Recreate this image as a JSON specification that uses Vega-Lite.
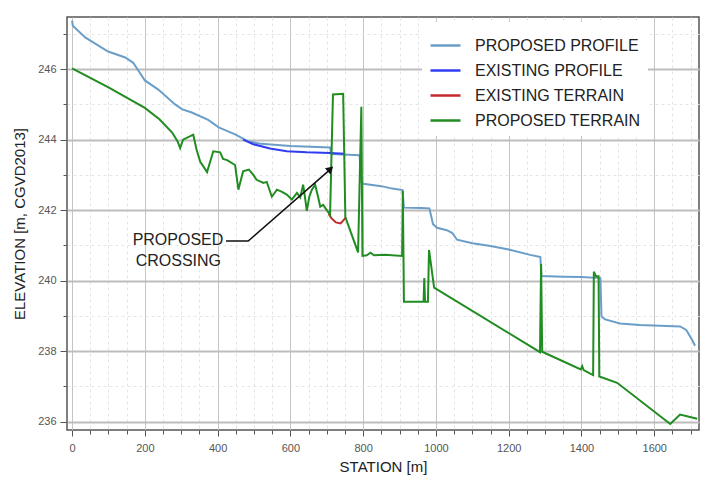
{
  "$schema": "https://vega.github.io/schema/vega-lite/v6.json",
  "width": 632,
  "height": 413,
  "autosize": {"type": "none"},
  "padding": {"left": 67, "top": 17, "right": 15, "bottom": 57},
  "background": "white",
  "config": {
    "font": "Liberation Sans",
    "view": {"stroke": "#555555", "strokeWidth": 1.5},
    "axis": {"labelColor": "#555555", "labelFontSize": 11, "titleColor": "#222222", "titleFontSize": 15, "titleFontWeight": "normal", "domain": false, "tickColor": "#555555"}
  },
  "datasets": {
    "lines": [
      {"series": "PROPOSED PROFILE", "station": 0, "elev": 247.38},
      {"series": "PROPOSED PROFILE", "station": 2, "elev": 247.23},
      {"series": "PROPOSED PROFILE", "station": 36, "elev": 246.9},
      {"series": "PROPOSED PROFILE", "station": 99, "elev": 246.5},
      {"series": "PROPOSED PROFILE", "station": 146, "elev": 246.33},
      {"series": "PROPOSED PROFILE", "station": 168, "elev": 246.18},
      {"series": "PROPOSED PROFILE", "station": 200, "elev": 245.68},
      {"series": "PROPOSED PROFILE", "station": 237, "elev": 245.42},
      {"series": "PROPOSED PROFILE", "station": 283, "elev": 245.0},
      {"series": "PROPOSED PROFILE", "station": 303, "elev": 244.86},
      {"series": "PROPOSED PROFILE", "station": 329, "elev": 244.77},
      {"series": "PROPOSED PROFILE", "station": 374, "elev": 244.56},
      {"series": "PROPOSED PROFILE", "station": 403, "elev": 244.35},
      {"series": "PROPOSED PROFILE", "station": 448, "elev": 244.15},
      {"series": "PROPOSED PROFILE", "station": 484, "elev": 243.95},
      {"series": "PROPOSED PROFILE", "station": 520, "elev": 243.88},
      {"series": "PROPOSED PROFILE", "station": 600, "elev": 243.82},
      {"series": "PROPOSED PROFILE", "station": 709, "elev": 243.78},
      {"series": "PROPOSED PROFILE", "station": 712, "elev": 243.59},
      {"series": "PROPOSED PROFILE", "station": 760, "elev": 243.57},
      {"series": "PROPOSED PROFILE", "station": 790, "elev": 243.56},
      {"series": "PROPOSED PROFILE", "station": 795, "elev": 242.8},
      {"series": "PROPOSED PROFILE", "station": 800, "elev": 242.75},
      {"series": "PROPOSED PROFILE", "station": 850, "elev": 242.68},
      {"series": "PROPOSED PROFILE", "station": 880, "elev": 242.61},
      {"series": "PROPOSED PROFILE", "station": 908, "elev": 242.57},
      {"series": "PROPOSED PROFILE", "station": 912, "elev": 242.07},
      {"series": "PROPOSED PROFILE", "station": 960, "elev": 242.06},
      {"series": "PROPOSED PROFILE", "station": 982, "elev": 242.05},
      {"series": "PROPOSED PROFILE", "station": 992, "elev": 241.6},
      {"series": "PROPOSED PROFILE", "station": 1003, "elev": 241.5},
      {"series": "PROPOSED PROFILE", "station": 1030, "elev": 241.43},
      {"series": "PROPOSED PROFILE", "station": 1045, "elev": 241.35},
      {"series": "PROPOSED PROFILE", "station": 1058, "elev": 241.16},
      {"series": "PROPOSED PROFILE", "station": 1100, "elev": 241.06},
      {"series": "PROPOSED PROFILE", "station": 1150, "elev": 240.98},
      {"series": "PROPOSED PROFILE", "station": 1200, "elev": 240.88},
      {"series": "PROPOSED PROFILE", "station": 1259, "elev": 240.73},
      {"series": "PROPOSED PROFILE", "station": 1287, "elev": 240.67},
      {"series": "PROPOSED PROFILE", "station": 1290, "elev": 240.13},
      {"series": "PROPOSED PROFILE", "station": 1350, "elev": 240.11},
      {"series": "PROPOSED PROFILE", "station": 1400, "elev": 240.1},
      {"series": "PROPOSED PROFILE", "station": 1452, "elev": 240.07},
      {"series": "PROPOSED PROFILE", "station": 1455, "elev": 238.98},
      {"series": "PROPOSED PROFILE", "station": 1465, "elev": 238.9},
      {"series": "PROPOSED PROFILE", "station": 1506, "elev": 238.78},
      {"series": "PROPOSED PROFILE", "station": 1560, "elev": 238.74},
      {"series": "PROPOSED PROFILE", "station": 1616, "elev": 238.72},
      {"series": "PROPOSED PROFILE", "station": 1671, "elev": 238.7},
      {"series": "PROPOSED PROFILE", "station": 1688, "elev": 238.6},
      {"series": "PROPOSED PROFILE", "station": 1705, "elev": 238.3},
      {"series": "PROPOSED PROFILE", "station": 1712, "elev": 238.15},
      {"series": "EXISTING PROFILE", "station": 470, "elev": 244.0},
      {"series": "EXISTING PROFILE", "station": 498, "elev": 243.87},
      {"series": "EXISTING PROFILE", "station": 544, "elev": 243.75},
      {"series": "EXISTING PROFILE", "station": 590, "elev": 243.67},
      {"series": "EXISTING PROFILE", "station": 645, "elev": 243.64},
      {"series": "EXISTING PROFILE", "station": 709, "elev": 243.62},
      {"series": "EXISTING PROFILE", "station": 750, "elev": 243.6},
      {"series": "EXISTING TERRAIN", "station": 705, "elev": 241.9},
      {"series": "EXISTING TERRAIN", "station": 712, "elev": 241.78},
      {"series": "EXISTING TERRAIN", "station": 725, "elev": 241.65},
      {"series": "EXISTING TERRAIN", "station": 738, "elev": 241.62},
      {"series": "EXISTING TERRAIN", "station": 745, "elev": 241.7},
      {"series": "EXISTING TERRAIN", "station": 753, "elev": 241.8},
      {"series": "PROPOSED TERRAIN", "station": 0, "elev": 246.02},
      {"series": "PROPOSED TERRAIN", "station": 100, "elev": 245.48},
      {"series": "PROPOSED TERRAIN", "station": 200, "elev": 244.9},
      {"series": "PROPOSED TERRAIN", "station": 240, "elev": 244.58},
      {"series": "PROPOSED TERRAIN", "station": 275, "elev": 244.2},
      {"series": "PROPOSED TERRAIN", "station": 290, "elev": 243.95},
      {"series": "PROPOSED TERRAIN", "station": 297, "elev": 243.76},
      {"series": "PROPOSED TERRAIN", "station": 305, "elev": 244.0},
      {"series": "PROPOSED TERRAIN", "station": 333, "elev": 244.14},
      {"series": "PROPOSED TERRAIN", "station": 342, "elev": 243.72},
      {"series": "PROPOSED TERRAIN", "station": 352, "elev": 243.38},
      {"series": "PROPOSED TERRAIN", "station": 371, "elev": 243.08},
      {"series": "PROPOSED TERRAIN", "station": 388, "elev": 243.67},
      {"series": "PROPOSED TERRAIN", "station": 407, "elev": 243.64},
      {"series": "PROPOSED TERRAIN", "station": 415, "elev": 243.45},
      {"series": "PROPOSED TERRAIN", "station": 426, "elev": 243.42},
      {"series": "PROPOSED TERRAIN", "station": 448, "elev": 243.28},
      {"series": "PROPOSED TERRAIN", "station": 457, "elev": 242.58},
      {"series": "PROPOSED TERRAIN", "station": 470, "elev": 243.1},
      {"series": "PROPOSED TERRAIN", "station": 486, "elev": 243.15},
      {"series": "PROPOSED TERRAIN", "station": 498, "elev": 243.0},
      {"series": "PROPOSED TERRAIN", "station": 507, "elev": 242.86},
      {"series": "PROPOSED TERRAIN", "station": 526, "elev": 242.77},
      {"series": "PROPOSED TERRAIN", "station": 535, "elev": 242.8},
      {"series": "PROPOSED TERRAIN", "station": 549, "elev": 242.38},
      {"series": "PROPOSED TERRAIN", "station": 563, "elev": 242.58},
      {"series": "PROPOSED TERRAIN", "station": 577, "elev": 242.52},
      {"series": "PROPOSED TERRAIN", "station": 590, "elev": 242.44},
      {"series": "PROPOSED TERRAIN", "station": 604, "elev": 242.3},
      {"series": "PROPOSED TERRAIN", "station": 618, "elev": 242.49},
      {"series": "PROPOSED TERRAIN", "station": 627, "elev": 242.36},
      {"series": "PROPOSED TERRAIN", "station": 635, "elev": 242.72},
      {"series": "PROPOSED TERRAIN", "station": 641, "elev": 242.3},
      {"series": "PROPOSED TERRAIN", "station": 645, "elev": 241.98},
      {"series": "PROPOSED TERRAIN", "station": 652, "elev": 242.38},
      {"series": "PROPOSED TERRAIN", "station": 659, "elev": 242.58},
      {"series": "PROPOSED TERRAIN", "station": 668, "elev": 242.72},
      {"series": "PROPOSED TERRAIN", "station": 676, "elev": 242.38},
      {"series": "PROPOSED TERRAIN", "station": 682, "elev": 242.1},
      {"series": "PROPOSED TERRAIN", "station": 690, "elev": 242.15},
      {"series": "PROPOSED TERRAIN", "station": 700, "elev": 242.0},
      {"series": "PROPOSED TERRAIN", "station": 709, "elev": 241.87},
      {"series": "PROPOSED TERRAIN", "station": 717, "elev": 245.28},
      {"series": "PROPOSED TERRAIN", "station": 745, "elev": 245.3},
      {"series": "PROPOSED TERRAIN", "station": 751, "elev": 241.8},
      {"series": "PROPOSED TERRAIN", "station": 786, "elev": 240.8},
      {"series": "PROPOSED TERRAIN", "station": 795, "elev": 244.93},
      {"series": "PROPOSED TERRAIN", "station": 798, "elev": 240.7},
      {"series": "PROPOSED TERRAIN", "station": 810, "elev": 240.72},
      {"series": "PROPOSED TERRAIN", "station": 820, "elev": 240.79},
      {"series": "PROPOSED TERRAIN", "station": 830, "elev": 240.72},
      {"series": "PROPOSED TERRAIN", "station": 860, "elev": 240.73},
      {"series": "PROPOSED TERRAIN", "station": 907, "elev": 240.7},
      {"series": "PROPOSED TERRAIN", "station": 909, "elev": 242.55},
      {"series": "PROPOSED TERRAIN", "station": 912, "elev": 239.4},
      {"series": "PROPOSED TERRAIN", "station": 966, "elev": 239.4},
      {"series": "PROPOSED TERRAIN", "station": 968, "elev": 240.07},
      {"series": "PROPOSED TERRAIN", "station": 970, "elev": 239.4},
      {"series": "PROPOSED TERRAIN", "station": 978, "elev": 239.4},
      {"series": "PROPOSED TERRAIN", "station": 981, "elev": 240.87},
      {"series": "PROPOSED TERRAIN", "station": 995, "elev": 239.8},
      {"series": "PROPOSED TERRAIN", "station": 1286, "elev": 237.97},
      {"series": "PROPOSED TERRAIN", "station": 1289, "elev": 240.47},
      {"series": "PROPOSED TERRAIN", "station": 1292, "elev": 237.98},
      {"series": "PROPOSED TERRAIN", "station": 1398, "elev": 237.48},
      {"series": "PROPOSED TERRAIN", "station": 1402, "elev": 237.57},
      {"series": "PROPOSED TERRAIN", "station": 1406, "elev": 237.46},
      {"series": "PROPOSED TERRAIN", "station": 1432, "elev": 237.32},
      {"series": "PROPOSED TERRAIN", "station": 1434, "elev": 240.25},
      {"series": "PROPOSED TERRAIN", "station": 1440, "elev": 240.12},
      {"series": "PROPOSED TERRAIN", "station": 1447, "elev": 240.12},
      {"series": "PROPOSED TERRAIN", "station": 1449, "elev": 237.28},
      {"series": "PROPOSED TERRAIN", "station": 1498, "elev": 237.1},
      {"series": "PROPOSED TERRAIN", "station": 1644, "elev": 235.93},
      {"series": "PROPOSED TERRAIN", "station": 1671, "elev": 236.2},
      {"series": "PROPOSED TERRAIN", "station": 1718, "elev": 236.08}
    ],
    "labels": [
      {"station": 291, "elev": 241.14, "text": "PROPOSED"},
      {"station": 292, "elev": 240.55, "text": "CROSSING"}
    ],
    "arrow": [
      {"station": 423, "elev": 241.12, "k": 1},
      {"station": 484, "elev": 241.12, "k": 2},
      {"station": 708, "elev": 243.14, "k": 3}
    ],
    "head": [
      {"station": 710, "elev": 243.17}
    ]
  },
  "encoding": {
    "x": {"field": "station", "type": "quantitative", "scale": {"domain": [-14, 1723], "nice": false, "zero": false},
      "axis": {"title": "STATION [m]", "titlePadding": 6, "values": [0,50,100,150,200,250,300,350,400,450,500,550,600,650,700,750,800,850,900,950,1000,1050,1100,1150,1200,1250,1300,1350,1400,1450,1500,1550,1600,1650,1700],
        "format": "d", "labelExpr": "datum.value % 200 === 0 ? datum.label : ''", "labelPadding": 6,
        "gridColor": {"condition": {"test": "datum.value % 200 === 0", "value": "#c4c4c4"}, "value": "#e4e4e4"},
        "gridDash": {"condition": {"test": "datum.value % 200 === 0", "value": []}, "value": [3, 3]},
        "tickSize": {"condition": {"test": "datum.value % 200 === 0", "value": 6}, "value": 4}}},
    "y": {"field": "elev", "type": "quantitative", "scale": {"domain": [235.76, 247.48], "nice": false, "zero": false},
      "axis": {"title": "ELEVATION [m, CGVD2013]", "titlePadding": 10, "values": [236,236.5,237,237.5,238,238.5,239,239.5,240,240.5,241,241.5,242,242.5,243,243.5,244,244.5,245,245.5,246,246.5,247],
        "format": "d", "labelExpr": "datum.value % 2 === 0 ? datum.label : ''", "labelPadding": 4,
        "gridColor": {"condition": {"test": "datum.value % 2 === 0", "value": "#bdbdbd"}, "value": "#e6e6e6"},
        "gridWidth": {"condition": {"test": "datum.value % 2 === 0", "value": 2}, "value": 1},
        "gridDash": {"condition": {"test": "datum.value % 2 === 0", "value": []}, "value": [3, 3]},
        "tickSize": {"condition": {"test": "datum.value % 2 === 0", "value": 7}, "value": 4}}}
  },
  "layer": [
    {"data": {"name": "lines"}, "transform": [{"filter": "datum.series === 'PROPOSED PROFILE'"}],
      "mark": {"type": "line", "strokeWidth": 2},
      "encoding": {"color": {"field": "series", "type": "nominal", "scale": {"domain": ["PROPOSED PROFILE", "EXISTING PROFILE", "EXISTING TERRAIN", "PROPOSED TERRAIN"], "range": ["#6a9ec8", "#2f3cf2", "#c42a2e", "#218c21"]},
        "legend": {"title": null, "orient": "none", "legendX": 355, "legendY": 5, "fillColor": "white", "padding": 7, "symbolType": "stroke", "symbolSize": 900, "symbolStrokeWidth": 2.5, "labelFontSize": 16, "labelColor": "#222222", "labelOffset": 13, "rowPadding": 0, "labelLimit": 300}},
        "order": {"field": "station", "type": "quantitative"}}},
    {"data": {"name": "lines"}, "transform": [{"filter": "datum.series === 'EXISTING PROFILE'"}],
      "mark": {"type": "line", "strokeWidth": 2},
      "encoding": {"color": {"field": "series", "type": "nominal"}, "order": {"field": "station", "type": "quantitative"}}},
    {"data": {"name": "lines"}, "transform": [{"filter": "datum.series === 'EXISTING TERRAIN'"}],
      "mark": {"type": "line", "strokeWidth": 2},
      "encoding": {"color": {"field": "series", "type": "nominal"}, "order": {"field": "station", "type": "quantitative"}}},
    {"data": {"name": "lines"}, "transform": [{"filter": "datum.series === 'PROPOSED TERRAIN'"}],
      "mark": {"type": "line", "strokeWidth": 2},
      "encoding": {"color": {"field": "series", "type": "nominal"}, "order": {"field": "station", "type": "quantitative"}}},
    {"data": {"name": "arrow"}, "mark": {"type": "line", "color": "#111111", "strokeWidth": 1.5},
      "encoding": {"order": {"field": "k", "type": "quantitative"}}},
    {"data": {"name": "head"}, "mark": {"type": "point", "shape": "triangle-up", "filled": true, "color": "#111111", "opacity": 1, "size": 70, "angle": 48.6},
      "encoding": {}},
    {"data": {"name": "labels"}, "mark": {"type": "text", "fontSize": 16, "color": "#222222", "align": "center", "baseline": "middle"},
      "encoding": {"text": {"field": "text"}}}
  ]
}
